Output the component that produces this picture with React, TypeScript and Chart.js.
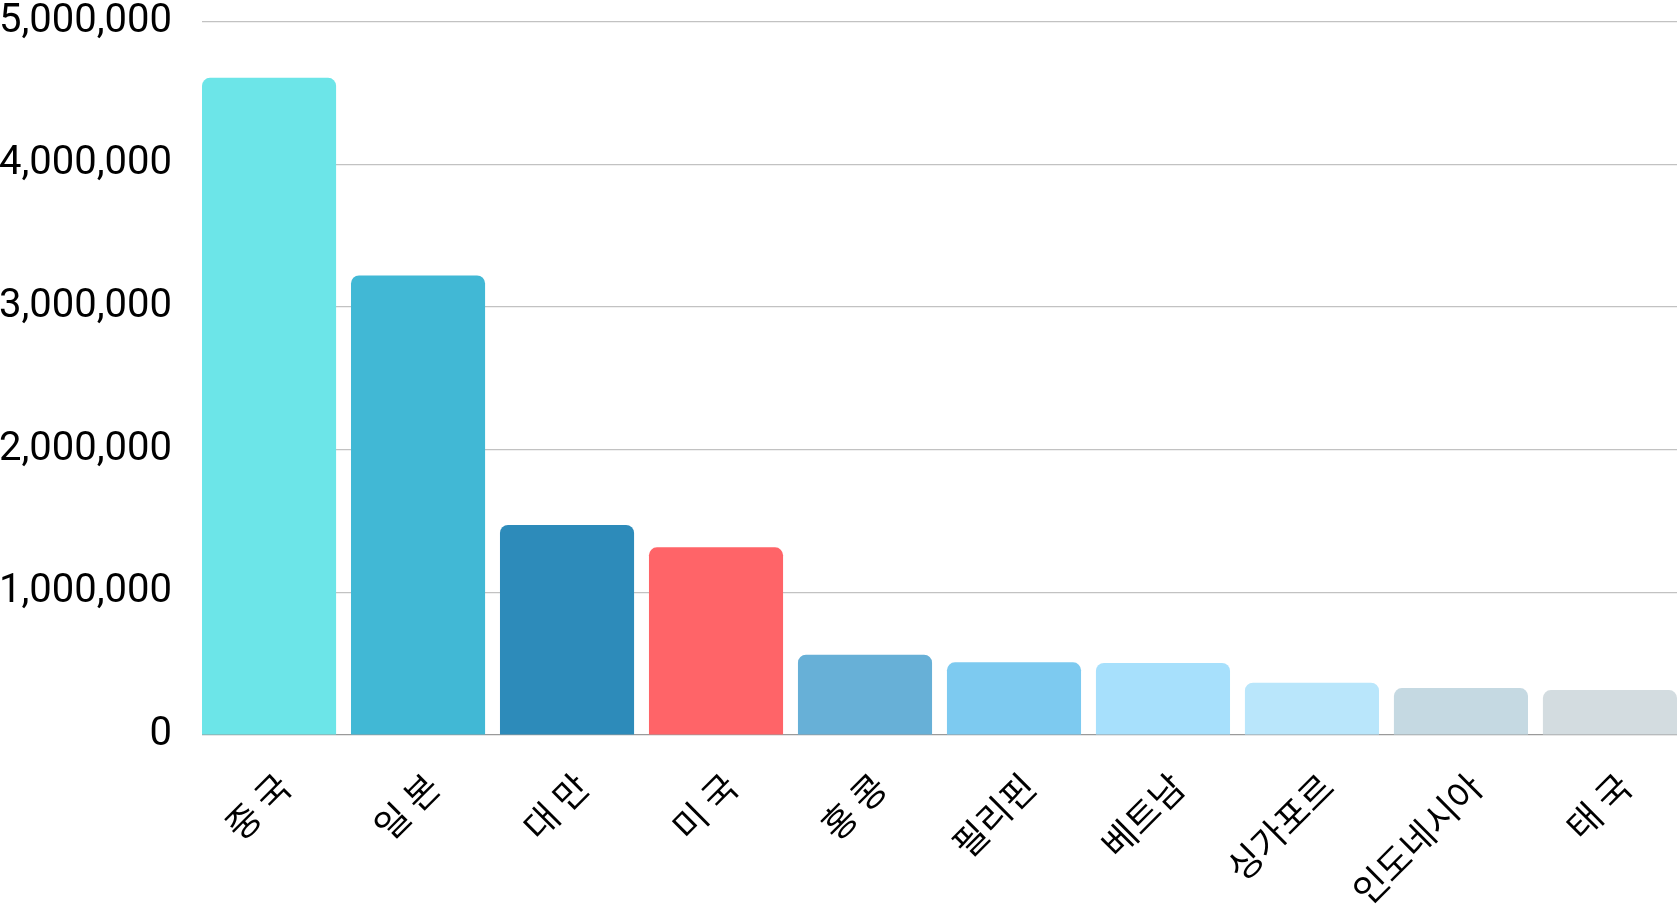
import React, { useEffect, useRef } from "react";
import { Chart, registerables } from "chart.js";

Chart.register(...registerables);

const categories = ["중 국", "일 본", "대 만", "미 국", "홍 콩", "필리핀", "베트남", "싱가포르", "인도네시아", "태 국"];
const visitors = [4605000, 3220000, 1472000, 1315000, 563000, 509000, 505000, 366000, 329000, 315000];
const barColors = ["#6CE5E8", "#41B8D5", "#2D8BBA", "#FF6468", "#67B0D7", "#7DCAF0", "#A7E0FC", "#B9E6FB", "#C5D9E2", "#D3DCE0"];
const yTicks = [0, 1000000, 2000000, 3000000, 4000000, 5000000];
const labelShift = 0.1;

export default function App() {
  const ref = useRef<HTMLCanvasElement | null>(null);

  useEffect(() => {
    if (!ref.current) return;
    const chart = new Chart(ref.current, {
      type: "bar",
      data: {
        labels: categories.map((_, i) => i),
        datasets: [
          {
            data: visitors,
            backgroundColor: barColors,
            borderRadius: 8,
            borderSkipped: "start",
            categoryPercentage: 0.9,
            barPercentage: 1,
          },
        ],
      },
      options: {
        animation: false,
        responsive: false,
        layout: { padding: { left: 0, right: 3, top: 0, bottom: 0 } },
        plugins: { legend: { display: false }, tooltip: { enabled: false } },
        scales: {
          x: {
            type: "linear",
            offset: false,
            bounds: "data",
            min: -0.45,
            max: categories.length - 1 + 0.45,
            grid: { display: false, drawTicks: false, offset: false },
            border: { display: false },
            afterBuildTicks: (scale: any) => {
              scale.ticks = categories.map((_, i) => ({ value: i + labelShift }));
            },
            afterFit: (scale: any) => {
              scale.height = 171;
              scale.paddingLeft = 0;
              scale.paddingRight = 0;
            },
            ticks: {
              autoSkip: false,
              includeBounds: false,
              stepSize: 1,
              maxRotation: 45,
              minRotation: 45,
              padding: 30,
              color: "#000",
              font: { family: "'Noto Sans CJK KR'", size: 36 },
              callback: (v: any) => categories[Math.round(Number(v))] ?? "",
            },
          },
          y: {
            min: 0,
            max: yTicks[yTicks.length - 1],
            afterBuildTicks: (scale: any) => {
              scale.ticks = yTicks.map((v) => ({ value: v }));
            },
            afterFit: (scale: any) => {
              scale.width = 202;
              scale.paddingTop = 21.5;
              scale.paddingBottom = 0;
            },
            grid: {
              drawTicks: false,
              color: (c: any) => (c.tick && c.tick.value === 0 ? "#9a9a9a" : "#c2c2c2"),
              lineWidth: 1.2,
            },
            border: { display: false },
            ticks: {
              padding: 30,
              color: "#000",
              font: { family: "Roboto", size: 40 },
              callback: (v: any) => Number(v).toLocaleString("en-US"),
            },
          },
        },
      },
    });
    return () => chart.destroy();
  }, []);

  return (
    <div style={{ position: "absolute", left: 0, top: 0, width: 1680, height: 906, background: "#fff" }}>
      <canvas ref={ref} width={1680} height={906} style={{ display: "block" }} />
    </div>
  );
}
